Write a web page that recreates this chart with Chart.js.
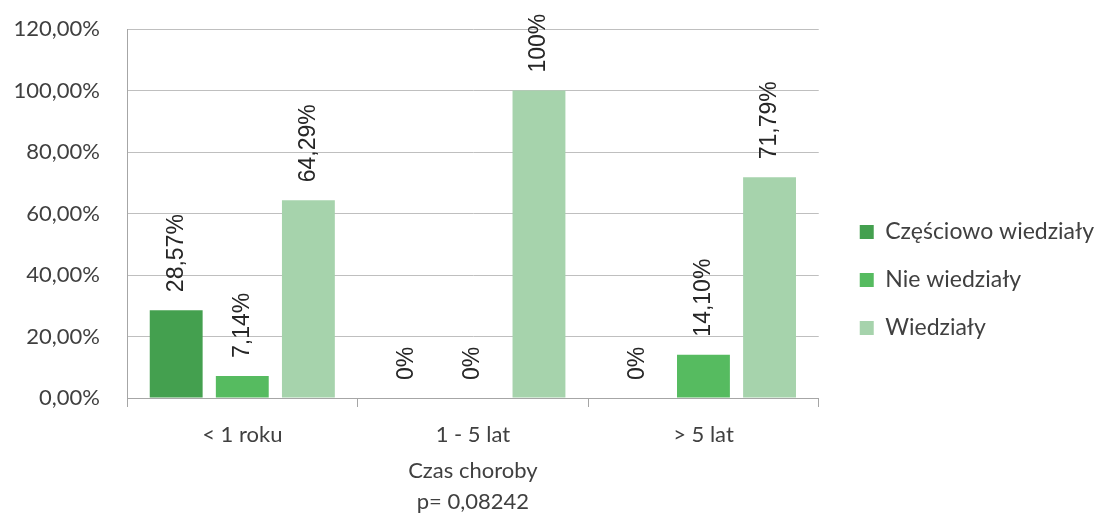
<!DOCTYPE html>
<html>
<head>
<meta charset="utf-8">
<script src="https://cdn.jsdelivr.net/npm/chart.js@4"></script>
<style>
  html, body { margin: 0; padding: 0; background: #fff; }
  #wrap { width: 1101px; height: 517px; }
</style>
</head>
<body>
<div id="wrap"><canvas id="chart" width="1101" height="517"></canvas></div>
<script>
const categories = ["< 1 roku", "1 - 5 lat", "> 5 lat"];
const seriesNames = ["Częściowo wiedziały", "Nie wiedziały", "Wiedziały"];
const czesciowo = [28.57, 0, 0];
const nieWiedzialy = [7.14, 0, 14.1];
const wiedzialy = [64.29, 100, 71.79];
const colors = ["#44A04F", "#56BB60", "#A6D3AC"];
const axisTitle = ["Czas choroby", "p= 0,08242"];

const FONT = "Lato";
const LABEL_FONT = "'Liberation Sans', Arial";
const textColor = "#404040";

const fmtLabel = (v) =>
  Number.isInteger(v) ? v + "%" : v.toFixed(2).replace(".", ",") + "%";

// value labels above bars, rotated
const barLabels = {
  id: "barLabels",
  afterDatasetsDraw(chart) {
    const ctx = chart.ctx;
    ctx.save();
    ctx.font = "23px " + LABEL_FONT;
    ctx.fillStyle = "#262626";
    ctx.textAlign = "left";
    ctx.textBaseline = "middle";
    chart.data.datasets.forEach((ds, i) => {
      chart.getDatasetMeta(i).data.forEach((bar, j) => {
        ctx.save();
        ctx.translate(bar.x, bar.y - 18);
        ctx.rotate(-Math.PI / 2);
        ctx.fillText(fmtLabel(ds.data[j]), 0, 0);
        ctx.restore();
      });
    });
    ctx.restore();
  },
};

// nudge legend away from the plot and a little lower
const legendShift = {
  id: "legendShift",
  afterLayout(chart) {
    const lg = chart.legend;
    lg.left += 16;
    lg.right += 16;
    lg.top += 7;
    lg.bottom += 7;
  },
};

new Chart(document.getElementById("chart"), {
  type: "bar",
  data: {
    labels: categories,
    datasets: [czesciowo, nieWiedzialy, wiedzialy].map((d, i) => ({
      label: seriesNames[i],
      data: d,
      backgroundColor: colors[i],
      categoryPercentage: 0.86,
      barPercentage: 0.8,
    })),
  },
  options: {
    responsive: false,
    animation: false,
    layout: { padding: { top: 29, right: 13, bottom: 0, left: 0 } },
    scales: {
      y: {
        min: 0,
        max: 120,
        ticks: {
          stepSize: 20,
          padding: 0,
          color: textColor,
          font: { family: FONT, size: 22 },
          callback: (v) => v.toFixed(2).replace(".", ",") + "%",
        },
        grid: { color: "#BFBFBF", drawTicks: true, tickLength: 27, tickColor: "rgba(0,0,0,0)" },
        border: { color: "#A6A6A6" },
        afterFit: (s) => { s.width = 127; },
      },
      x: {
        ticks: {
          padding: 15,
          color: textColor,
          font: { family: FONT, size: 22 },
        },
        grid: { drawOnChartArea: false, tickLength: 9, color: "#A6A6A6" },
        border: { color: "#A6A6A6" },
        title: {
          display: true,
          text: axisTitle,
          color: textColor,
          font: { family: FONT, size: 22, lineHeight: 1.4 },
          padding: { top: -8, bottom: 0 },
        },
      },
    },
    plugins: {
      legend: {
        position: "right",
        labels: {
          boxWidth: 14,
          boxHeight: 14,
          padding: 25,
          color: textColor,
          font: { family: FONT, size: 23 },
        },
      },
      tooltip: { enabled: false },
    },
  },
  plugins: [barLabels, legendShift],
});
</script>
</body>
</html>
